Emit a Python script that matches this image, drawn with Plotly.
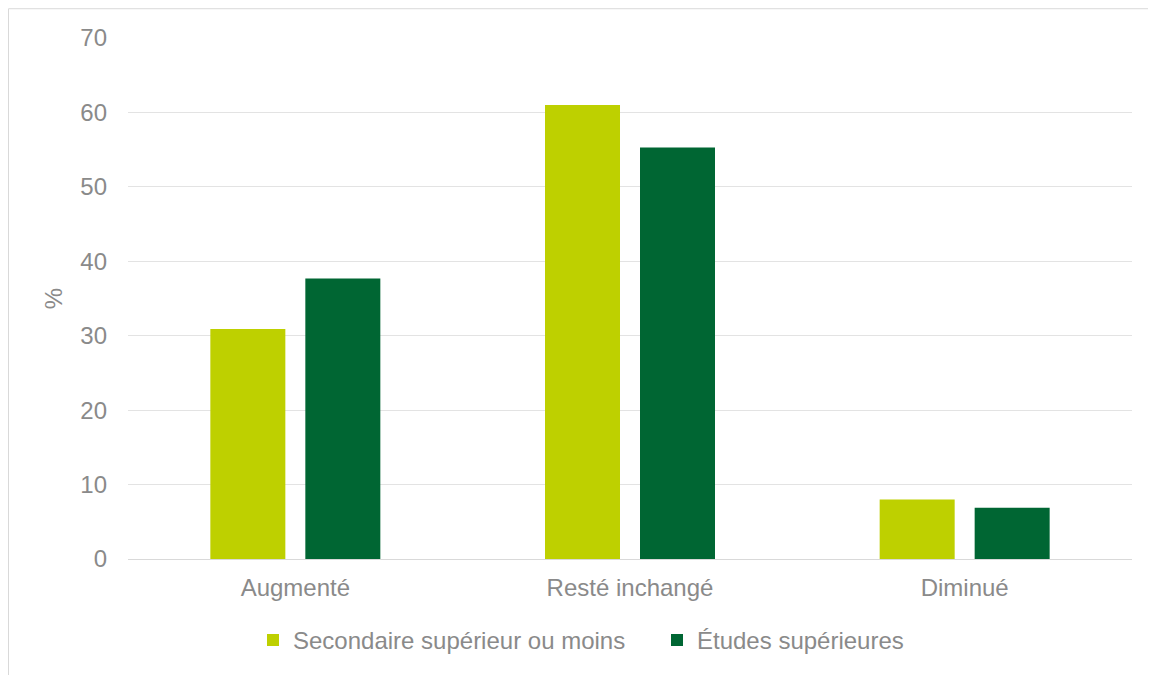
import plotly.graph_objects as go

categories = ["Augmenté", "Resté inchangé", "Diminué"]
series_names = ["Secondaire supérieur ou moins", "Études supérieures"]
secondaire = [30.9, 61.0, 8.0]
etudes = [37.7, 55.3, 6.9]
colors = ["#bed000", "#006633"]

# page has an 8px body margin; figure coordinates = page - 8
W, H = 1148, 667
ml, mr, mt, mb = 120, 24, 30, 112
pw, ph = W - ml - mr, H - mt - mb

def px_x(x):
    return (x - ml) / pw

def px_y(y):
    return (H - mb - y) / ph

fig = go.Figure()
for name, vals, col in zip(series_names, [secondaire, etudes], colors):
    fig.add_trace(go.Bar(x=categories, y=vals, name=name, marker_color=col,
                         marker_line_width=0))

font = dict(family="Liberation Sans", size=24, color="#8a8a8a")

fig.update_layout(
    width=W, height=H,
    margin=dict(l=ml, r=mr, t=mt, b=mb),
    paper_bgcolor="white", plot_bgcolor="white",
    font=font,
    barmode="group", bargap=0.4323, bargroupgap=0.2105,
    xaxis=dict(showgrid=False, showline=False, ticks="", tickfont=font,
               ticklabelstandoff=12),
    yaxis=dict(range=[0, 70], dtick=10, showgrid=True, gridcolor="#e3e3e3",
               gridwidth=1, zeroline=True, zerolinecolor="#d9d9d9", zerolinewidth=1,
               showline=False, ticks="", tickfont=font, ticklabelstandoff=20,
               title=dict(text="%", font=font, standoff=10)),
    legend=dict(orientation="h", x=px_x(245), xanchor="left", y=px_y(637),
                yanchor="middle", font=font, traceorder="normal",
                entrywidth=359, entrywidthmode="pixels"),
    shapes=[dict(type="rect", xref="paper", yref="paper",
                 x0=px_x(0.5), x1=px_x(1200), y0=px_y(700), y1=px_y(0.5),
                 line=dict(color="#d9d9d9", width=1), layer="below")],
)

fig.write_html("out.html")
